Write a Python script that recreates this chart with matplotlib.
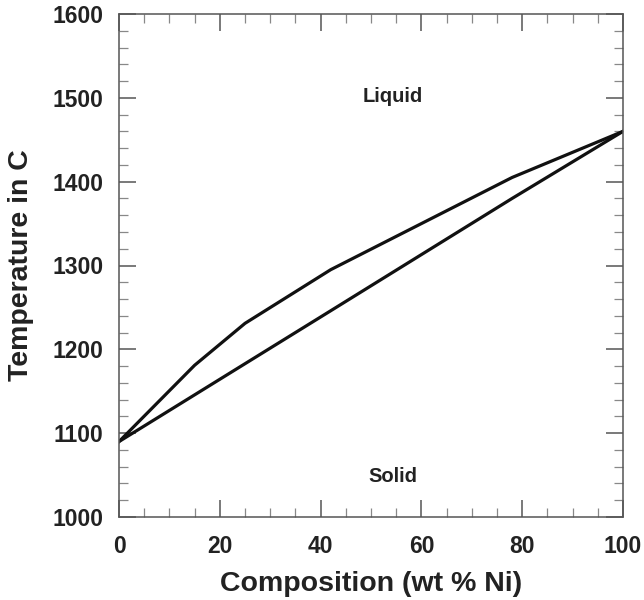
import matplotlib.pyplot as plt
from matplotlib.ticker import MultipleLocator

plt.rcParams['font.family'] = ['Liberation Sans', 'DejaVu Sans']
plt.rcParams['font.weight'] = 'bold'

# Cu-Ni phase diagram
liquidus_x = [0, 15, 25, 42, 78, 100]
liquidus_t = [1090, 1181, 1231, 1295, 1405, 1460]
solidus_x = [0, 42, 78, 100]
solidus_t = [1090, 1246, 1380, 1460]

region_labels = ['Liquid', 'Solid']
region_x = [54.3, 54.3]
region_t = [1501, 1048]

fig = plt.figure(figsize=(6.44, 6.0), dpi=100)
ax = fig.add_axes([0.1848, 0.1383, 0.7826, 0.8384])

ax.plot(liquidus_x, liquidus_t, color='#111111', linewidth=2.3, solid_joinstyle='round')
ax.plot(solidus_x, solidus_t, color='#111111', linewidth=2.3, solid_joinstyle='round')

for label, x, t in zip(region_labels, region_x, region_t):
    ax.text(x, t, label, fontsize=14.5, fontweight='bold', color='#222222',
            ha='center', va='center')

ax.set_xlim(0, 100)
ax.set_ylim(1000, 1600)
ax.xaxis.set_major_locator(MultipleLocator(20))
ax.xaxis.set_minor_locator(MultipleLocator(5))
ax.yaxis.set_major_locator(MultipleLocator(100))
ax.yaxis.set_minor_locator(MultipleLocator(20))

ax.tick_params(which='both', direction='in', top=True, right=True, color='#555555')
ax.tick_params(which='major', length=12, width=1.1)
ax.tick_params(which='minor', length=6.5, width=0.9, color='#888888')
ax.tick_params(axis='x', which='major', pad=13, labelsize=16.5, labelcolor='#222222')
ax.tick_params(axis='y', which='major', pad=11, labelsize=16.5, labelcolor='#222222')
for lab in ax.get_xticklabels() + ax.get_yticklabels():
    lab.set_fontweight('bold')

for sp in ax.spines.values():
    sp.set_color('#555555')
    sp.set_linewidth(1.1)

ax.set_xlabel('Composition (wt % Ni)', fontsize=20.5, fontweight='bold', color='#222222')
ax.set_ylabel('Temperature in C', fontsize=20.5, fontweight='bold', color='#222222')
ax.xaxis.set_label_coords(0.5, -0.108)
ax.yaxis.set_label_coords(-0.168, 0.5)

fig.savefig('out.png', dpi=100)
